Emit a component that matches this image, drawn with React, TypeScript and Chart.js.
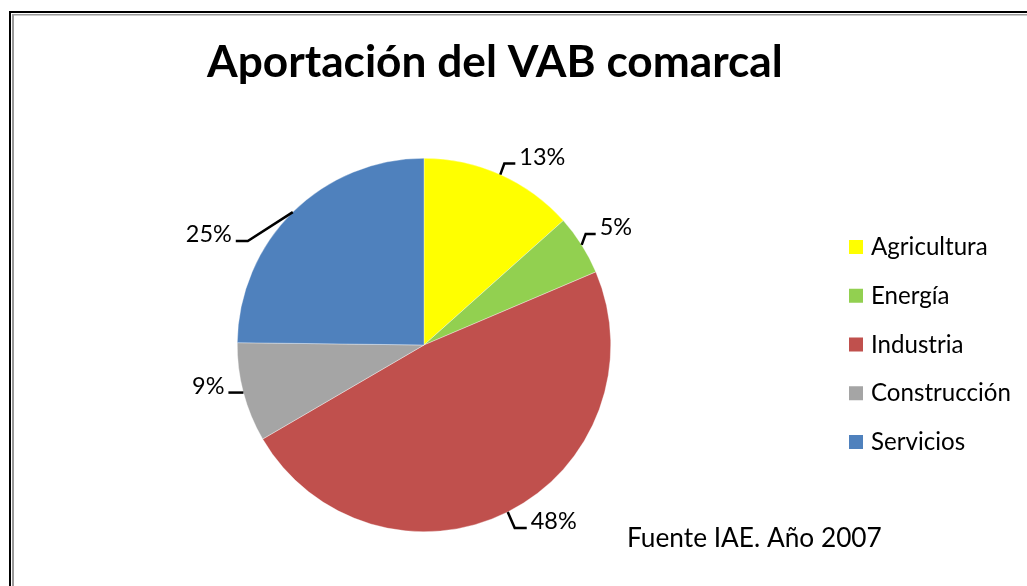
import React, { useEffect, useRef } from "react";
import { Chart, registerables } from "chart.js";

Chart.register(...registerables);

const categories = ["Agricultura", "Energía", "Industria", "Construcción", "Servicios"];
const shares = [13.4, 5.2, 48.0, 8.6, 24.8];
const sliceColors = ["#FFFF00", "#92D050", "#C0504D", "#A5A5A5", "#4F81BD"];
const chartTitle = "Aportación del VAB comarcal";
const sourceNote = "Fuente IAE. Año 2007";

// leader-line geometry per slice (elbow offset from the arc point, then horizontal run)
const leaderLayout = [
  { dx: 4, dy: -11, run: 11 },
  { dx: 4, dy: -11, run: 10 },
  { dx: 7, dy: 16, run: 12 },
  { dx: 0, dy: 0, run: -15 },
  { dx: -45, dy: 29, run: -12 },
];

const FAMILY = "Lato, 'Open Sans', sans-serif";

function fitSize(ctx: CanvasRenderingContext2D, text: string, width: number, weight: string) {
  ctx.font = `${weight} 100px ${FAMILY}`;
  const w = ctx.measureText(text).width;
  return (100 * width) / w;
}

const decorPlugin = {
  id: "decor",
  beforeDraw(chart: any) {
    const ctx: CanvasRenderingContext2D = chart.ctx;
    ctx.save();
    ctx.fillStyle = "#ffffff";
    ctx.fillRect(0, 0, chart.width, chart.height);
    // frame
    ctx.fillStyle = "#000000";
    ctx.fillRect(9, 11, 2, chart.height);
    ctx.fillRect(9, 11, chart.width, 2);
    ctx.fillStyle = "#9a9a9a";
    ctx.fillRect(12, 14, 2, chart.height);
    ctx.fillRect(12, 14, chart.width, 1.5);
    ctx.restore();
  },
  afterDraw(chart: any) {
    const ctx: CanvasRenderingContext2D = chart.ctx;
    ctx.save();
    ctx.fillStyle = "#000000";
    ctx.textBaseline = "alphabetic";

    // title
    const tSize = fitSize(ctx, chartTitle, 576, "bold");
    ctx.font = `bold ${tSize}px ${FAMILY}`;
    ctx.textAlign = "left";
    ctx.fillText(chartTitle, 207, 77);

    // percentage labels with leader lines
    const meta = chart.getDatasetMeta(0);
    const total = shares.reduce((a, b) => a + b, 0);
    const lSize = fitSize(ctx, "48%", 46, "normal");
    ctx.font = `${lSize}px ${FAMILY}`;
    ctx.strokeStyle = "#000000";
    ctx.lineWidth = 2.5;
    ctx.lineJoin = "miter";
    meta.data.forEach((arc: any, i: number) => {
      const p = arc.getProps(["x", "y", "startAngle", "endAngle", "outerRadius"], true);
      const mid = (p.startAngle + p.endAngle) / 2;
      const sx = p.x + Math.cos(mid) * p.outerRadius;
      const sy = p.y + Math.sin(mid) * p.outerRadius;
      const L = leaderLayout[i];
      const ex = sx + L.dx;
      const ey = sy + L.dy;
      const fx = ex + L.run;
      ctx.beginPath();
      ctx.moveTo(sx, sy);
      ctx.lineTo(ex, ey);
      ctx.lineTo(fx, ey);
      ctx.stroke();
      const label = Math.round((shares[i] / total) * 100) + "%";
      if (L.run > 0) {
        ctx.textAlign = "left";
        ctx.fillText(label, fx + 4, ey + 1);
      } else {
        ctx.textAlign = "right";
        ctx.fillText(label, fx - 4, ey + 1);
      }
    });

    // legend
    const gSize = fitSize(ctx, "Construcción", 140, "normal");
    ctx.font = `${gSize}px ${FAMILY}`;
    ctx.textAlign = "left";
    categories.forEach((c, i) => {
      const top = 240 + i * 48.75;
      ctx.fillStyle = sliceColors[i];
      ctx.fillRect(849, top, 14, 14);
      ctx.fillStyle = "#000000";
      ctx.fillText(c, 871, top + 15);
    });

    // source note
    const sSize = fitSize(ctx, sourceNote, 255, "normal");
    ctx.font = `${sSize}px ${FAMILY}`;
    ctx.fillText(sourceNote, 627, 547);
    ctx.restore();
  },
};

export default function App() {
  const ref = useRef<HTMLCanvasElement | null>(null);
  useEffect(() => {
    if (!ref.current) return;
    const chart = new Chart(ref.current, {
      type: "pie",
      data: {
        labels: categories,
        datasets: [
          {
            data: shares,
            backgroundColor: sliceColors,
            borderColor: "rgba(255,255,255,0.7)",
            borderWidth: 0.5,
          },
        ],
      },
      options: {
        responsive: false,
        maintainAspectRatio: false,
        animation: false,
        layout: { padding: { left: 237, right: 416, top: 158, bottom: 54 } },
        plugins: {
          legend: { display: false },
          title: { display: false },
          tooltip: { enabled: false },
        },
      },
      plugins: [decorPlugin],
    });
    return () => chart.destroy();
  }, []);
  return (
    <div style={{ position: "fixed", left: 0, top: 0, width: 1027, height: 586, background: "#fff" }}>
      <canvas ref={ref} width={1027} height={586} style={{ width: 1027, height: 586, display: "block" }} />
    </div>
  );
}
